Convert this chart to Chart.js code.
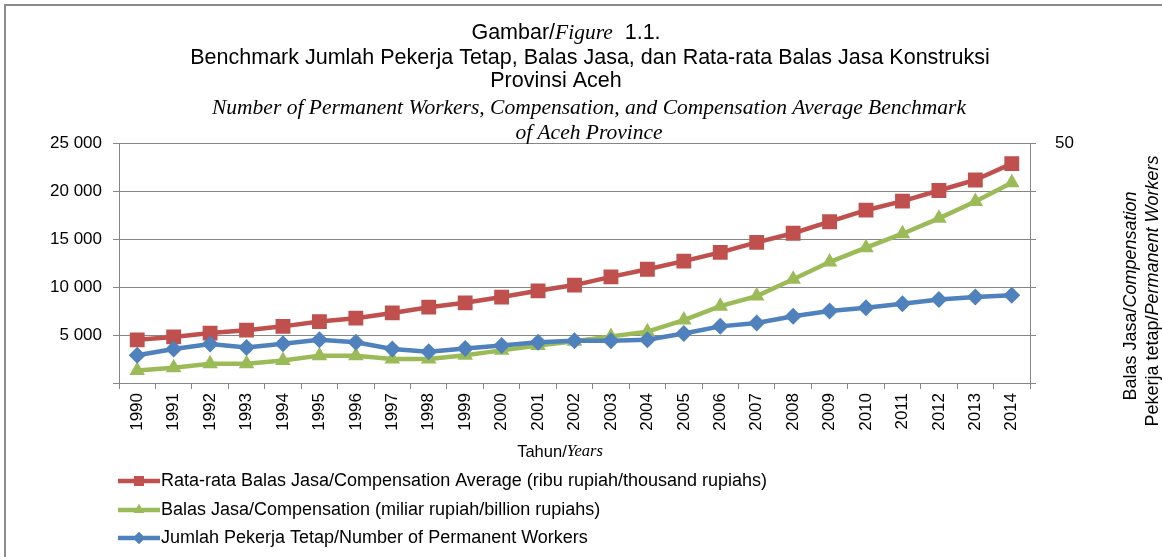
<!DOCTYPE html>
<html>
<head>
<meta charset="utf-8">
<script src="https://cdn.jsdelivr.net/npm/chart.js@4/dist/chart.umd.min.js"></script>
<style>
  html, body { margin: 0; padding: 0; background: #fff; }
  #wrap { width: 1162px; height: 557px; position: relative; }
</style>
</head>
<body>
<div id="wrap"><canvas id="c" width="1162" height="557"></canvas></div>
<script>
const years = ['1990','1991','1992','1993','1994','1995','1996','1997','1998','1999','2000','2001','2002','2003','2004','2005','2006','2007','2008','2009','2010','2011','2012','2013','2014'];
const avgCompensation = [4500, 4800, 5200, 5500, 5900, 6400, 6750, 7300, 7900, 8350, 8950, 9600, 10200, 11050, 11850, 12700, 13600, 14650, 15600, 16800, 18000, 18950, 20050, 21150, 22850];
const compensation = [1300, 1600, 2000, 2000, 2350, 2850, 2850, 2500, 2500, 2900, 3400, 3900, 4350, 4850, 5350, 6550, 8000, 9050, 10800, 12600, 14100, 15550, 17150, 18900, 20850];
const workers = [2900, 3550, 4050, 3700, 4100, 4500, 4250, 3550, 3250, 3600, 3900, 4250, 4400, 4400, 4500, 5150, 5900, 6250, 6950, 7500, 7850, 8250, 8700, 8950, 9150];
const leftTicks = [5000, 10000, 15000, 20000, 25000];
const rightTickLabel = 50;

const SANS = '"Liberation Sans", Arial, sans-serif';
const SERIF = '"Liberation Serif", "Times New Roman", serif';
const RED = '#C0504D', GREEN = '#9BBB59', BLUE = '#4F81BD', GRID = '#868686';

const legendItems = [
  { text: 'Rata-rata Balas Jasa/Compensation Average (ribu rupiah/thousand rupiahs)', color: RED, style: 'rect', r: 7 },
  { text: 'Balas Jasa/Compensation (miliar rupiah/billion rupiahs)', color: GREEN, style: 'triangle', r: 6 },
  { text: 'Jumlah Pekerja Tetap/Number of Permanent Workers', color: BLUE, style: 'rectRot', r: 6 }
];

function fmt(v) { return String(v).replace(/\B(?=(\d{3})+(?!\d))/g, ' '); }

function drawMixed(ctx, parts, cx, y) {
  let total = 0;
  parts.forEach(p => { ctx.font = p[1]; total += ctx.measureText(p[0]).width; });
  let x = cx - total / 2;
  ctx.textBaseline = 'middle';
  ctx.textAlign = 'left';
  parts.forEach(p => { ctx.font = p[1]; ctx.fillText(p[0], x, y); x += ctx.measureText(p[0]).width; });
}

const textPlugin = {
  id: 'textPlugin',
  beforeDraw(chart) {
    const ctx = chart.ctx;
    ctx.save();
    ctx.fillStyle = '#fff';
    ctx.fillRect(0, 0, chart.width, chart.height);
    ctx.strokeStyle = '#8c8c8c';
    ctx.lineWidth = 2;
    ctx.beginPath();
    ctx.moveTo(5, 557); ctx.lineTo(5, 5); ctx.lineTo(1162, 5);
    ctx.stroke();
    ctx.restore();
  },
  afterDraw(chart) {
    const ctx = chart.ctx;
    ctx.save();
    ctx.fillStyle = '#000';
    const ts = '21.5px ' + SANS, ti = 'italic 21.5px ' + SERIF;
    drawMixed(ctx, [['Gambar/', ts], ['Figure', ti], ['  1.1.', ts]], 566, 33);
    drawMixed(ctx, [['Benchmark Jumlah Pekerja Tetap, Balas Jasa, dan Rata-rata Balas Jasa Konstruksi', ts]], 590, 58);
    drawMixed(ctx, [['Provinsi Aceh', ts]], 556, 81);
    drawMixed(ctx, [['Number of Permanent Workers, Compensation, and Compensation Average Benchmark', ti]], 589, 108);
    drawMixed(ctx, [['of Aceh Province', ti]], 589, 133);
    // x axis title
    drawMixed(ctx, [['Tahun/', '16.5px ' + SANS], ['Years', 'italic 16.5px ' + SERIF]], 560, 452);
    // right axis title (rotated)
    ctx.save();
    ctx.translate(1131, 296);
    ctx.rotate(-Math.PI / 2);
    drawMixed(ctx, [['Balas Jasa/', '18px ' + SANS], ['Compensation', 'italic 18px ' + SANS]], 0, 0);
    ctx.restore();
    ctx.save();
    ctx.translate(1153, 291);
    ctx.rotate(-Math.PI / 2);
    drawMixed(ctx, [['Pekerja tetap/', '18px ' + SANS], ['Permanent Workers', 'italic 18px ' + SANS]], 0, 0);
    ctx.restore();
    // legend
    const rows = [481, 510, 538];
    legendItems.forEach((it, i) => {
      const y = rows[i];
      ctx.strokeStyle = it.color;
      ctx.lineWidth = 4.5;
      ctx.beginPath(); ctx.moveTo(118, y); ctx.lineTo(160, y); ctx.stroke();
      ctx.fillStyle = it.color;
      Chart.helpers.drawPoint(ctx, { pointStyle: it.style, radius: it.r, borderWidth: 0, rotation: 0 }, 139, y);
      ctx.fill();
      ctx.fillStyle = '#000';
      ctx.font = '18px ' + SANS;
      ctx.textBaseline = 'middle';
      ctx.textAlign = 'left';
      ctx.fillText(it.text, 161, y);
    });
    ctx.restore();
  }
};

const common = { borderWidth: 4.5, tension: 0, pointBorderWidth: 0, pointHoverRadius: 9 };

new Chart(document.getElementById('c'), {
  type: 'line',
  data: {
    labels: years,
    datasets: [
      Object.assign({ label: 'Jumlah Pekerja Tetap/Number of Permanent Workers', data: workers, borderColor: BLUE, backgroundColor: BLUE, pointStyle: 'rectRot', pointRadius: 8.5 }, common),
      Object.assign({ label: 'Balas Jasa/Compensation (miliar rupiah/billion rupiahs)', data: compensation, borderColor: GREEN, backgroundColor: GREEN, pointStyle: 'triangle', pointRadius: 9 }, common),
      Object.assign({ label: 'Rata-rata Balas Jasa/Compensation Average (ribu rupiah/thousand rupiahs)', data: avgCompensation, borderColor: RED, backgroundColor: RED, pointStyle: 'rect', pointRadius: 10.5 }, common)
    ]
  },
  options: {
    responsive: false,
    animation: false,
    devicePixelRatio: 1,
    layout: { padding: { top: 143, left: 0, right: 0, bottom: 0 } },
    plugins: { legend: { display: false }, title: { display: false }, tooltip: { enabled: false } },
    scales: {
      x: {
        offset: true,
        grid: { offset: true, drawOnChartArea: false, drawTicks: true, tickLength: 6, color: GRID },
        border: { color: GRID, width: 1 },
        ticks: { color: '#000', font: { family: SANS, size: 17 }, maxRotation: 90, minRotation: 90, padding: 4, autoSkip: false },
        afterFit(s) { s.height = 174; }
      },
      y: {
        position: 'left',
        min: 0, max: 25000,
        afterBuildTicks(s) { s.ticks = [0].concat(leftTicks).map(v => ({ value: v })); },
        grid: { color: GRID, tickLength: 6, drawTicks: true },
        border: { color: GRID, width: 1 },
        ticks: { color: '#000', font: { family: SANS, size: 17 }, padding: 11, callback: v => v === 0 ? '' : fmt(v) },
        afterFit(s) { s.width = 119; }
      },
      y2: {
        position: 'right',
        min: 0, max: 50,
        ticks: { stepSize: 10, color: '#000', font: { family: SANS, size: 17 }, padding: 19, callback: v => v === rightTickLabel ? String(v) : '' },
        grid: { drawOnChartArea: false, tickLength: 6, color: GRID },
        border: { color: GRID, width: 1 },
        afterFit(s) { s.width = 132; }
      }
    }
  },
  plugins: [textPlugin]
});
</script>
</body>
</html>
